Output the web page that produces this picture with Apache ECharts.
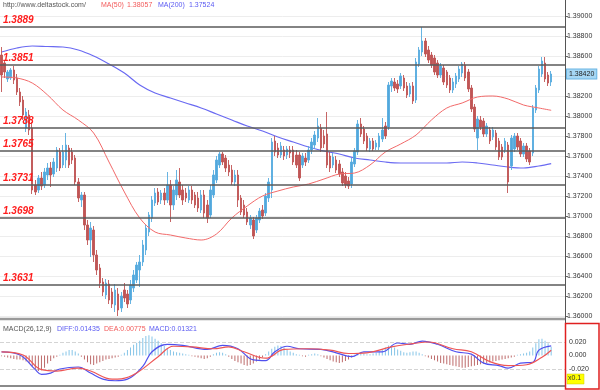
<!DOCTYPE html>
<html><head><meta charset="utf-8">
<script src="https://cdn.jsdelivr.net/npm/echarts/dist/echarts.min.js"></script>
<style>html,body{margin:0;padding:0;background:#fff}#c{width:600px;height:390px}</style>
</head><body><div id="c"></div>
<script>
const openP = [1.3861,1.3853,1.3837,1.3838,1.3846,1.3838,1.3824,1.3816,1.3788,1.3801,
1.3788,1.3731,1.3726,1.3738,1.3731,1.3741,1.3748,1.3742,1.3748,1.3764,
1.3751,1.3756,1.3768,1.3764,1.3758,1.3734,1.3716,1.3721,1.3691,1.3676,
1.3686,1.3661,1.3648,1.3634,1.3621,1.3632,1.3624,1.3611,1.3622,1.3608,
1.3626,1.3622,1.3616,1.3628,1.3636,1.3646,1.3654,1.3666,1.3684,1.3698,
1.3713,1.3724,1.3716,1.3723,1.3716,1.3731,1.3711,1.3721,1.3734,1.3726,
1.3723,1.3716,1.3726,1.3721,1.3718,1.3706,1.3721,1.3711,1.3701,1.3721,
1.3736,1.3751,1.3762,1.3758,1.3751,1.3746,1.3734,1.3741,1.3718,1.3711,
1.3704,1.3691,1.3696,1.3686,1.3696,1.3706,1.3703,1.3718,1.3726,1.3775,
1.3768,1.3761,1.3766,1.3761,1.3766,1.3766,1.3761,1.3761,1.3751,1.3758,
1.3756,1.3766,1.3771,1.3778,1.3788,1.3780,1.3782,1.3760,1.3751,1.3756,
1.3752,1.3744,1.3740,1.3735,1.3732,1.3752,1.3764,1.3792,1.3787,1.3780,
1.3767,1.3775,1.3769,1.3769,1.3777,1.3790,1.3789,1.3830,1.3834,1.3832,
1.3830,1.3838,1.3830,1.3822,1.3830,1.3816,1.3852,1.3864,1.3875,1.3866,
1.3861,1.3858,1.3853,1.3841,1.3848,1.3844,1.3838,1.3826,1.3832,1.3837,
1.3843,1.3851,1.3844,1.3828,1.3809,1.3778,1.3796,1.3795,1.3782,1.3786,
1.3779,1.3783,1.3775,1.3769,1.3766,1.3771,1.3750,1.3767,1.3780,1.3775,
1.3762,1.3770,1.3765,1.3763,1.3806,1.3826,1.3842,1.3853,1.3841,1.3834];

const closeP = [1.3841,1.3844,1.3844,1.3846,1.3836,1.3824,1.3814,1.3801,1.3804,1.3786,
1.3726,1.3724,1.3738,1.3730,1.3744,1.3748,1.3741,1.3754,1.3766,1.3748,
1.3764,1.3771,1.3751,1.3756,1.3734,1.3718,1.3721,1.3691,1.3676,1.3688,
1.3661,1.3646,1.3633,1.3624,1.3633,1.3616,1.3612,1.3626,1.3606,1.3620,
1.3618,1.3612,1.3631,1.3641,1.3651,1.3654,1.3671,1.3688,1.3701,1.3716,
1.3723,1.3714,1.3723,1.3716,1.3731,1.3711,1.3726,1.3736,1.3721,1.3716,
1.3718,1.3726,1.3716,1.3711,1.3708,1.3721,1.3703,1.3698,1.3726,1.3741,
1.3756,1.3762,1.3754,1.3748,1.3744,1.3734,1.3741,1.3716,1.3704,1.3701,
1.3694,1.3698,1.3680,1.3698,1.3705,1.3700,1.3720,1.3734,1.3774,1.3764,
1.3761,1.3770,1.3760,1.3767,1.3763,1.3754,1.3751,1.3738,1.3760,1.3754,
1.3766,1.3774,1.3781,1.3790,1.3768,1.3772,1.3751,1.3748,1.3759,1.3746,
1.3742,1.3733,1.3731,1.3730,1.3754,1.3765,1.3792,1.3782,1.3775,1.3768,
1.3775,1.3767,1.3773,1.3780,1.3786,1.3780,1.3831,1.3835,1.3828,1.3827,
1.3840,1.3828,1.3821,1.3830,1.3815,1.3854,1.3866,1.3875,1.3862,1.3856,
1.3851,1.3844,1.3841,1.3850,1.3834,1.3831,1.3826,1.3834,1.3840,1.3847,
1.3852,1.3838,1.3827,1.3807,1.3787,1.3797,1.3789,1.3782,1.3790,1.3775,
1.3786,1.3769,1.3759,1.3759,1.3775,1.3734,1.3778,1.3780,1.3769,1.3762,
1.3770,1.3757,1.3754,1.3808,1.3828,1.3847,1.3855,1.3837,1.3833,1.3842];

const lowP = [1.3824,1.3838,1.3834,1.3836,1.3832,1.3821,1.3810,1.3796,1.3784,1.3781,
1.3722,1.3721,1.3723,1.3726,1.3728,1.3736,1.3729,1.3739,1.3744,1.3745,
1.3748,1.3748,1.3748,1.3752,1.3731,1.3714,1.3709,1.3686,1.3671,1.3659,
1.3654,1.3641,1.3628,1.3620,1.3617,1.3612,1.3608,1.3604,1.3600,1.3604,
1.3614,1.3608,1.3612,1.3624,1.3633,1.3629,1.3650,1.3661,1.3680,1.3694,
1.3710,1.3711,1.3712,1.3711,1.3713,1.3694,1.3706,1.3716,1.3718,1.3711,
1.3714,1.3713,1.3712,1.3708,1.3704,1.3703,1.3698,1.3693,1.3698,1.3718,
1.3733,1.3748,1.3751,1.3744,1.3740,1.3731,1.3730,1.3709,1.3701,1.3698,
1.3691,1.3687,1.3677,1.3683,1.3693,1.3697,1.3700,1.3714,1.3718,1.3760,
1.3758,1.3758,1.3756,1.3757,1.3758,1.3751,1.3748,1.3735,1.3748,1.3750,
1.3753,1.3762,1.3767,1.3774,1.3764,1.3768,1.3748,1.3744,1.3748,1.3743,
1.3739,1.3730,1.3728,1.3727,1.3728,1.3749,1.3761,1.3779,1.3772,1.3765,
1.3764,1.3765,1.3766,1.3766,1.3774,1.3777,1.3786,1.3824,1.3825,1.3823,
1.3827,1.3825,1.3818,1.3819,1.3812,1.3813,1.3849,1.3860,1.3859,1.3853,
1.3848,1.3841,1.3838,1.3838,1.3831,1.3828,1.3823,1.3823,1.3828,1.3834,
1.3839,1.3835,1.3824,1.3804,1.3784,1.3766,1.3786,1.3779,1.3779,1.3772,
1.3776,1.3766,1.3756,1.3756,1.3763,1.3723,1.3746,1.3764,1.3766,1.3759,
1.3759,1.3754,1.3751,1.3760,1.3803,1.3823,1.3839,1.3834,1.3830,1.3830];

const highP = [1.3869,1.3856,1.3846,1.3848,1.3850,1.3842,1.3828,1.3820,1.3808,1.3806,
1.3794,1.3736,1.3741,1.3744,1.3748,1.3753,1.3754,1.3758,1.3769,1.3768,
1.3771,1.3783,1.3771,1.3768,1.3761,1.3738,1.3724,1.3724,1.3696,1.3694,
1.3690,1.3666,1.3652,1.3638,1.3637,1.3636,1.3628,1.3632,1.3628,1.3624,
1.3633,1.3626,1.3636,1.3646,1.3654,1.3661,1.3676,1.3691,1.3704,1.3720,
1.3728,1.3728,1.3726,1.3728,1.3744,1.3736,1.3730,1.3746,1.3748,1.3731,
1.3728,1.3730,1.3730,1.3724,1.3724,1.3726,1.3726,1.3716,1.3731,1.3746,
1.3760,1.3764,1.3764,1.3761,1.3756,1.3751,1.3746,1.3746,1.3721,1.3716,
1.3708,1.3701,1.3699,1.3701,1.3708,1.3711,1.3723,1.3738,1.3778,1.3780,
1.3773,1.3774,1.3770,1.3770,1.3770,1.3770,1.3766,1.3764,1.3763,1.3763,
1.3770,1.3778,1.3785,1.3798,1.3792,1.3786,1.3804,1.3764,1.3763,1.3760,
1.3756,1.3748,1.3744,1.3739,1.3758,1.3768,1.3796,1.3798,1.3790,1.3783,
1.3778,1.3778,1.3776,1.3783,1.3798,1.3794,1.3834,1.3838,1.3838,1.3836,
1.3843,1.3841,1.3834,1.3833,1.3834,1.3858,1.3869,1.3889,1.3878,1.3870,
1.3864,1.3861,1.3856,1.3853,1.3851,1.3846,1.3841,1.3838,1.3843,1.3850,
1.3854,1.3854,1.3847,1.3831,1.3812,1.3800,1.3800,1.3798,1.3793,1.3789,
1.3789,1.3786,1.3778,1.3772,1.3778,1.3774,1.3781,1.3783,1.3783,1.3778,
1.3773,1.3773,1.3768,1.3811,1.3831,1.3850,1.3859,1.3859,1.3844,1.3845];

// moving averages: [candle index, value]
const ma50 = [[0,1.3839],[5,1.3838],[10,1.3833],[15,1.3821],[20,1.3806],[25,1.3796],[30,1.3783],[35,1.3754],
[40,1.3724],[45,1.3698],[50,1.3684],[55,1.3681],[60,1.3678],[65,1.3676],[70,1.3682],[75,1.3698],[80,1.3710],
[85,1.3720],[90,1.3725],[95,1.3729],[100,1.3732],[105,1.3737],[110,1.3742],[115,1.3743],[120,1.3751],[125,1.3764],
[130,1.3772],[135,1.3781],[140,1.3796],[145,1.3808],[150,1.3813],[155,1.3819],[160,1.3820],[165,1.3817],
[170,1.3811],[175,1.3808],[179,1.38057]];
const ma200 = [[0,1.3864],[5,1.3868],[10,1.3870],[15,1.38695],[20,1.3869],[25,1.3866],[30,1.3860],[35,1.3852],
[40,1.3843],[45,1.3831],[50,1.3823],[55,1.3818],[60,1.3813],[65,1.3808],[70,1.3802],[75,1.3796],[80,1.3790],
[85,1.3785],[90,1.3779],[95,1.3774],[100,1.3769],[105,1.3765],[110,1.3762],[115,1.3758],[120,1.3756],[125,1.3754],
[130,1.3753],[135,1.3753],[140,1.3753],[145,1.3753],[150,1.3754],[155,1.3753],[160,1.3751],[165,1.3749],
[170,1.3748],[175,1.3750],[179,1.37524]];

const levels = [1.3889, 1.3851, 1.3788, 1.3765, 1.3731, 1.3698, 1.3631];

const macdHist = [
-0.001,-0.002,-0.003,-0.004,-0.005,-0.006,-0.006,-0.007,-0.009,-0.011,
-0.016,-0.020,-0.023,-0.022,-0.018,-0.012,-0.008,-0.004,-0.002,0.001,
0.004,0.006,0.008,0.008,0.006,0.003,-0.002,-0.006,-0.010,-0.013,
-0.014,-0.012,-0.010,-0.008,-0.006,-0.005,-0.004,-0.003,-0.002,0.001,
0.004,0.008,0.012,0.016,0.019,0.022,0.026,0.029,0.030,0.028,
0.025,0.022,0.018,0.014,0.011,0.008,0.006,0.005,0.004,0.003,
0.002,0.001,-0.001,-0.002,-0.003,-0.004,-0.005,-0.004,-0.002,0.002,
0.004,0.005,0.004,0.002,-0.002,-0.005,-0.008,-0.010,-0.012,-0.014,
-0.015,-0.014,-0.012,-0.009,-0.006,-0.003,0.002,0.006,0.010,0.013,
0.015,0.014,0.012,0.009,0.006,0.004,0.002,0.001,-0.001,-0.002,
0.001,0.002,0.003,0.002,-0.001,-0.003,-0.005,-0.007,-0.009,-0.010,
-0.011,-0.010,-0.008,-0.006,-0.003,0.001,0.003,0.004,0.003,0.002,
0.002,0.003,0.004,0.006,0.009,0.012,0.015,0.014,0.012,0.009,
0.007,0.005,0.004,0.005,0.006,0.006,0.004,0.002,-0.001,-0.003,
-0.005,-0.007,-0.009,-0.011,-0.012,-0.013,-0.014,-0.015,-0.016,-0.017,
-0.018,-0.018,-0.017,-0.016,-0.015,-0.014,-0.013,-0.012,-0.011,-0.010,
-0.009,-0.008,-0.007,-0.006,-0.005,-0.004,-0.003,-0.002,0.001,0.002,
0.003,0.004,0.006,0.012,0.018,0.024,0.025,0.022,0.018,0.013];

const diffLine = [[0,0.0055],[6,0.0007],[11,-0.021],[13,-0.028],[16,-0.026],[19,-0.020],[25,-0.017],[29,-0.026],
[33,-0.035],[37,-0.0374],[41,-0.035],[46,-0.016],[49,0.0055],[54,0.0166],[59,0.015],[67,0.009],[72,0.015],
[77,0.010],[82,-0.0065],[86,-0.0075],[89,0.0055],[93,0.0137],[97,0.010],[104,0.009],[109,0.004],[114,-0.0017],
[118,0.0055],[124,0.0055],[129,0.0185],[133,0.0166],[137,0.0214],[142,0.0166],[148,0.0055],[153,0.002],
[157,-0.0113],[162,-0.015],[165,-0.0186],[169,-0.0113],[173,-0.010],[175,0.008],[179,0.01435]];
const deaLine = [[0,0.0055],[7,0.0007],[13,-0.021],[18,-0.023],[25,-0.0186],[29,-0.023],[36,-0.035],[39,-0.0345],
[44,-0.026],[51,-0.0017],[56,0.0137],[62,0.0128],[69,0.010],[74,0.0128],[79,0.0055],[86,-0.004],[92,0.009],
[99,0.010],[107,0.008],[113,0.003],[119,0.004],[127,0.0128],[134,0.0176],[139,0.020],[147,0.010],[153,0.0055],
[159,-0.009],[165,-0.015],[171,-0.0137],[176,-0.0027],[179,0.00775]];

const FONT = 'Liberation Sans';
const NCAT = 184;
const categories = [];
for (let i = 0; i < NCAT; i++) categories.push(String(i));
const candleData = openP.map((o, i) => [o, closeP[i], lowP[i], highP[i]]);
const lastClose = closeP[closeP.length - 1];

const chart = echarts.init(document.getElementById('c'), null, {renderer: 'canvas'});
const txt = (x, y, s, color, size) => ({type: 'text', left: x, top: y, silent: true, z: 100,
  style: {text: s, fill: color, font: (size || 7) + 'px "' + FONT + '"'}});

chart.setOption({
  animation: false,
  backgroundColor: '#ffffff',
  grid: [
    {left: 0, right: 35, top: 16, height: 300},
    {left: 0, right: 35, top: 328.5, height: 54}
  ],
  xAxis: [
    {type: 'category', data: categories, gridIndex: 0, show: false, boundaryGap: true},
    {type: 'category', data: categories, gridIndex: 1, show: false, boundaryGap: true}
  ],
  yAxis: [
    {gridIndex: 0, position: 'right', min: 1.36, max: 1.39, interval: 0.002,
     axisLine: {show: false},
     axisTick: {show: true, length: 3, lineStyle: {color: '#666'}},
     axisLabel: {margin: 2, color: '#333', fontSize: 7, fontFamily: FONT, formatter: v => v.toFixed(5)},
     splitLine: {show: true, lineStyle: {color: '#ededed', width: 1}}},
    {gridIndex: 1, position: 'right', min: -0.04, max: 0.04, interval: 0.02,
     axisLine: {show: false},
     axisTick: {show: false},
     axisLabel: {margin: 4, color: '#333', fontSize: 7, fontFamily: FONT, showMinLabel: false, showMaxLabel: false,
       formatter: v => v.toFixed(3)},
     splitLine: {show: true, lineStyle: {color: ['rgba(0,0,0,0)', '#d4d4d4'], type: 'dashed', width: 1}}}
  ],
  series: [
    {type: 'line', name: 'MA(200)', data: ma200, xAxisIndex: 0, yAxisIndex: 0, smooth: 0.35, symbol: 'none', z: 2,
     lineStyle: {color: '#6a6af2', width: 1.2},
     markLine: {symbol: 'none', silent: true, animation: false, precision: 4,
       lineStyle: {color: '#5a5a5a', width: 1.5, type: 'solid'},
       label: {position: 'insideStartTop', distance: [3, 2], formatter: p => Number(p.value).toFixed(4),
         color: '#ff1c1c', fontSize: 10, fontWeight: 'bold', fontStyle: 'italic', fontFamily: FONT},
       data: levels.map(v => ({yAxis: v}))}},
    {type: 'candlestick', name: 'price', data: candleData, xAxisIndex: 0, yAxisIndex: 0, barWidth: 2, z: 3,
     clip: false,
     itemStyle: {color: '#3f9fd8', color0: '#b84343', borderColor: '#58acdf', borderColor0: '#c05454', borderWidth: 1, opacity: 0.9},
     markLine: {symbol: 'none', silent: true, animation: false, precision: 5,
       data: [{yAxis: lastClose, lineStyle: {color: 'rgba(0,0,0,0)', width: 0.1},
         label: {show: true, position: 'end', distance: 2, formatter: p => Number(p.value).toFixed(5), backgroundColor: '#a6d7f4',
           borderColor: '#6ab6e4', borderWidth: 1, padding: [1, 2, 1, 2], color: '#222', fontSize: 7, fontFamily: FONT}}]}},
    {type: 'line', name: 'MA(50)', data: ma50, xAxisIndex: 0, yAxisIndex: 0, smooth: 0.35, symbol: 'none', z: 4,
     lineStyle: {color: '#f26a6a', width: 1}},
    {type: 'bar', name: 'MACD', data: macdHist, xAxisIndex: 1, yAxisIndex: 1, barWidth: 1,
     itemStyle: {color: p => p.value >= 0 ? '#86c5e8' : '#bd6a6a'}},
    {type: 'line', name: 'DIFF', data: diffLine, xAxisIndex: 1, yAxisIndex: 1, smooth: 0.4, symbol: 'none', z: 4,
     lineStyle: {color: '#5050ee', width: 1.2}},
    {type: 'line', name: 'DEA', data: deaLine, xAxisIndex: 1, yAxisIndex: 1, smooth: 0.4, symbol: 'none', z: 4,
     lineStyle: {color: '#ee5555', width: 1.2}}
  ],
  graphic: [
    {type: 'line', silent: true, z: 50, shape: {x1: 565.5, y1: 0, x2: 565.5, y2: 323}, style: {stroke: '#555', lineWidth: 1}},
    {type: 'line', silent: true, z: 50, shape: {x1: 0, y1: 319, x2: 565, y2: 319}, style: {stroke: '#9a9a9a', lineWidth: 2.5}},
    {type: 'line', silent: true, z: 50, shape: {x1: 0, y1: 386, x2: 565, y2: 386}, style: {stroke: '#8a8a8a', lineWidth: 2}},
    {type: 'rect', silent: true, z: 50, shape: {x: 565.5, y: 323.5, width: 33.5, height: 65.5}, style: {fill: 'none', stroke: '#e02020', lineWidth: 1.5}},
    {type: 'rect', silent: true, z: 60, shape: {x: 567, y: 374, width: 17, height: 10}, style: {fill: '#ffff00', stroke: '#c8c800', lineWidth: 0.5}},
    txt(568, 375, 'x0.1', '#333', 7),
    txt(3, 2, 'http://www.deltastock.com/', '#555', 7),
    txt(101, 2, 'MA(50)', '#f25a5a', 7),
    txt(127, 2, '1.38057', '#f25a5a', 7),
    txt(158, 2, 'MA(200)', '#5a5af2', 7),
    txt(189, 2, '1.37524', '#5a5af2', 7),
    txt(3, 326, 'MACD(26,12,9)', '#555', 7),
    txt(57, 326, 'DIFF:0.01435', '#5a5af2', 7),
    txt(104, 326, 'DEA:0.00775', '#f25a5a', 7),
    txt(149, 326, 'MACD:0.01321', '#5a5af2', 7)
  ]
});
</script></body></html>
